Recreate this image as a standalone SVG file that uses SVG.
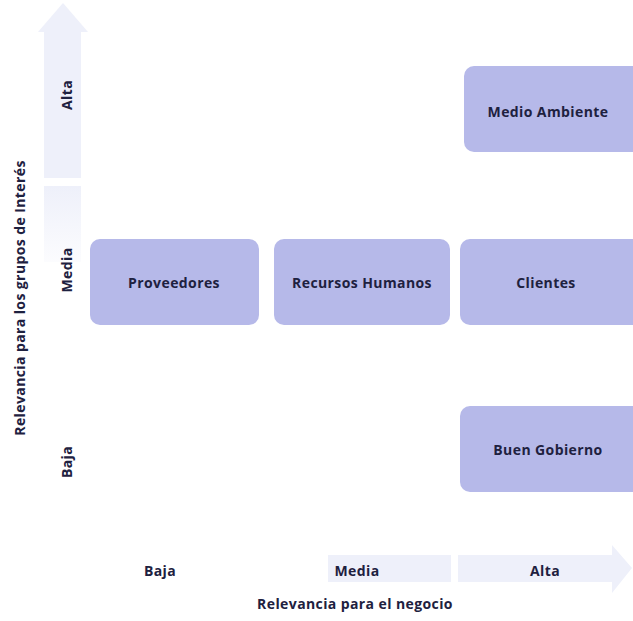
<svg xmlns="http://www.w3.org/2000/svg" width="633" height="621" viewBox="0 0 633 621">
<defs>
<linearGradient id="fadeV" x1="0" y1="0" x2="0" y2="1">
<stop offset="0" stop-color="#eef0fa"/>
<stop offset="1" stop-color="#eef0fa" stop-opacity="0.2"/>
</linearGradient>
</defs>
<style>
.box{fill:#b6b9e9;}
.t{font-family:"Open Sans","Liberation Sans",sans-serif;font-weight:bold;font-size:14px;letter-spacing:0.4px;fill:#1e2140;text-anchor:middle;}
.ax{fill:#eef0fa;}
</style>
<rect width="633" height="621" fill="#ffffff"/>
<g id="axes">
<path class="ax" d="M44,178 L44,32 L38,32 L63,3 L88,32 L81,32 L81,178 Z"/>
<rect x="44" y="186" width="37" height="76" fill="url(#fadeV)"/>
<rect class="ax" x="328" y="555" width="123" height="27"/>
<path class="ax" d="M458,555 L612,555 L612,545 L632,568 L612,593 L612,582 L458,582 Z"/>
</g>
<g id="labels">
<text class="t" transform="translate(72,95) rotate(-90)">Alta</text>
<text class="t" transform="translate(72,270) rotate(-90)">Media</text>
<text class="t" transform="translate(72,462) rotate(-90)">Baja</text>
<text class="t" transform="translate(25,298) rotate(-90)">Relevancia para los grupos de Interés</text>
<text class="t" x="160" y="576">Baja</text>
<text class="t" x="357" y="576">Media</text>
<text class="t" x="545" y="576">Alta</text>
<text class="t" x="355" y="609">Relevancia para el negocio</text>
</g>
<g id="medio-ambiente">
<rect class="box" x="464" y="66" width="180" height="86" rx="10"/>
<text class="t" x="548" y="117">Medio Ambiente</text>
</g>
<g id="proveedores">
<rect class="box" x="90" y="239" width="169" height="86" rx="10"/>
<text class="t" x="174" y="288">Proveedores</text>
</g>
<g id="recursos-humanos">
<rect class="box" x="274" y="239" width="176" height="86" rx="10"/>
<text class="t" x="362" y="288">Recursos Humanos</text>
</g>
<g id="clientes">
<rect class="box" x="460" y="239" width="184" height="86" rx="10"/>
<text class="t" x="546" y="288">Clientes</text>
</g>
<g id="buen-gobierno">
<rect class="box" x="460" y="406" width="184" height="86" rx="10"/>
<text class="t" x="548" y="455">Buen Gobierno</text>
</g>
<g id="connectors"></g>
</svg>
